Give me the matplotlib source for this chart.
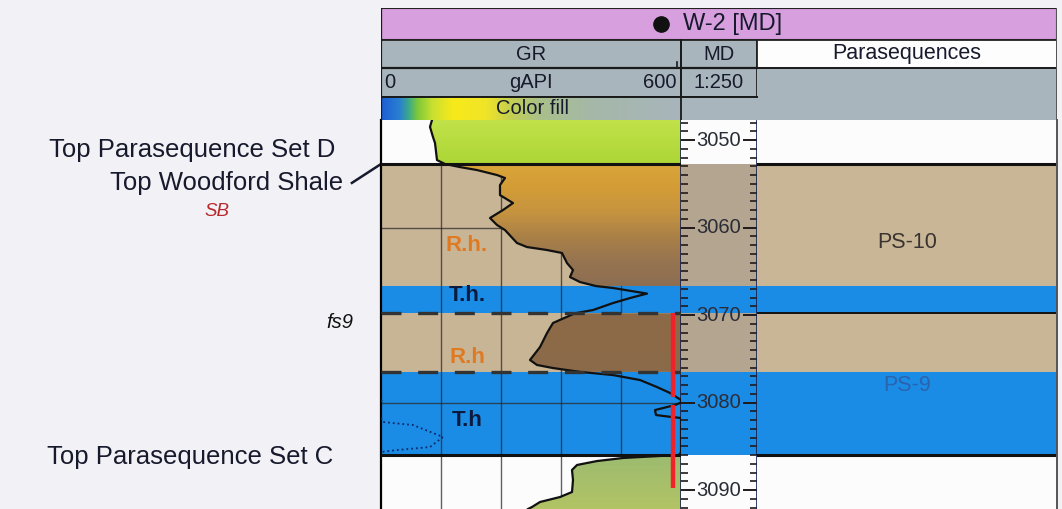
import numpy as np
import matplotlib
matplotlib.use("Agg")
import matplotlib.pyplot as plt
from matplotlib.colors import LinearSegmentedColormap
from matplotlib.path import Path
from matplotlib.patches import Rectangle
from matplotlib.ticker import MultipleLocator

plt.rcParams['font.family'] = ['Liberation Sans', 'DejaVu Sans']

W, H = 1062, 509

# depth window shown (m, MD)
top_depth, base_depth = 3047.71, 3092.17

# GR log (gAPI); above 600 it wraps onto the backup scale
gr_depth = [3047.71, 3048.5, 3049.66, 3050.34, 3052.29, 3052.74, 3053.09, 3053.43,
            3054.0, 3054.34, 3055.14, 3056.29, 3057.2, 3058.0, 3058.91, 3059.71,
            3060.29, 3061.77, 3062.23, 3062.57, 3062.91, 3064.06, 3064.86, 3065.66,
            3066.23, 3066.69, 3066.91, 3067.55, 3068.06, 3068.63, 3069.43, 3069.8,
            3070.91, 3072.06, 3073.66, 3075.14, 3075.71, 3076.06, 3076.5, 3076.86,
            3077.43, 3078.23, 3078.91, 3079.49, 3079.7, 3080.0, 3080.29, 3080.86,
            3081.43, 3081.66, 3081.77, 3082.23, 3082.57, 3083.94, 3085.09, 3085.43,
            3085.66, 3086.0, 3086.11, 3086.34, 3086.69, 3087.14, 3087.71, 3088.86,
            3090.23, 3090.8, 3091.37, 3091.94, 3092.17]
gr_value = [102, 98, 104, 108, 112, 128, 158, 192,
            232, 248, 238, 238, 264, 244, 218, 232,
            248, 272, 292, 332, 362, 372, 384, 378,
            398, 430, 464, 532, 498, 464, 424, 388,
            344, 332, 318, 298, 312, 344, 398, 464,
            518, 552, 578, 594, 600, 604, 588, 548,
            550, 582, 600, 604, 664, 724, 698, 632,
            600, 596, 558, 484, 432, 392, 382, 384,
            382, 358, 318, 302, 294]

# facies intervals in the GR track
facies_top = [3052.74, 3066.69, 3069.8, 3076.5]
facies_base = [3066.69, 3069.8, 3076.5, 3086.0]
facies_kind = ["R", "T", "R", "T"]
facies_label = ["R.h.", "T.h.", "R.h", "T.h"]
facies_label_depth = [3062.1, 3067.8, 3074.8, 3082.0]

# parasequences
ps_name = ["PS-10", "PS-9"]
ps_top = [3052.74, 3069.8]
ps_base = [3069.8, 3086.0]
ps_label_depth = [3061.7, 3078.0]

# well tops written on the left
tops_name = ["Top Parasequence Set D", "Top Woodford Shale", "Top Parasequence Set C"]
tops_label_depth = [3051.1, 3054.9, 3086.2]
woodford_depth = 3052.74
sb_depth = 3058.2
fs9_depth = 3070.8

# red marker in GR track
red_gr = 583
red_top = [3069.8, 3080.29]
red_base = [3079.37, 3089.77]

md_labels = [3050, 3060, 3070, 3080, 3090]

tan_gr = '#c8b596'
tan_md = '#b3a590'
tan_ps = '#c9b697'
blue = '#1a8ce6'
white = '#fcfcfd'
ink = '#171a2c'

fig = plt.figure(figsize=(W / 100, H / 100), dpi=100)
fig.patch.set_facecolor('#f2f1f6')


def px_axes(x0, x1, y0, y1):
    return fig.add_axes([x0 / W, 1 - y1 / H, (x1 - x0) / W, (y1 - y0) / H])


ax_gr = px_axes(381, 681, 120, 509)
ax_md = px_axes(681, 757, 120, 509)
ax_ps = px_axes(757, 1057, 120, 509)
ax_h = px_axes(381, 1057, 8, 120)

depth = np.array(gr_depth)
gr = np.array(gr_value, dtype=float)
gr_main = np.minimum(gr, 600)
gr_wrap = np.where(gr >= 600, gr - 600, np.nan)

# ---------------- GR track ----------------
ax_gr.set_facecolor(white)
for t, b, k in zip(facies_top, facies_base, facies_kind):
    ax_gr.axhspan(t, b, color=tan_gr if k == "R" else blue, zorder=0, lw=0)
for g in [120, 240, 360, 480]:
    ax_gr.axvline(g, color='#2a2a2a', lw=1.0, alpha=0.75, zorder=1)
for d in [3060, 3080]:
    ax_gr.axhline(d, color='#2a2a2a', lw=1.0, alpha=0.75, zorder=1)


def gradient_fill(ax, d0, d1, stops):
    mask = (depth >= d0) & (depth <= d1)
    poly = ax.fill_betweenx(depth, gr_main, 600, where=mask,
                            facecolor='none', edgecolor='none')
    cmap = LinearSegmentedColormap.from_list('f', stops)
    im = ax.imshow(np.linspace(0, 1, 256).reshape(-1, 1), cmap=cmap, aspect='auto',
                   extent=(0, 600, d1, d0), origin='upper', zorder=2,
                   interpolation='bilinear')
    im.set_clip_path(Path.make_compound_path(*poly.get_paths()), ax.transData)


gradient_fill(ax_gr, top_depth, 3052.74, [(0, '#c2e24a'), (1, '#acd636')])
gradient_fill(ax_gr, 3052.74, 3066.69, [(0, '#daa63a'), (0.2, '#d39c36'),
                                        (0.4, '#c69440'), (0.6, '#a98047'),
                                        (0.8, '#967450'), (1, '#8d6e52')])
gradient_fill(ax_gr, 3069.8, 3076.5, [(0, '#8e6b47'), (1, '#8b6a4a')])
gradient_fill(ax_gr, 3086.0, base_depth, [(0, '#9cbb70'), (1, '#b2c464')])

ax_gr.plot(gr_main, depth, color='#111111', lw=1.6, zorder=4)
ax_gr.plot(gr_wrap, depth, color='#0d2a6a', lw=1.3, ls=':', zorder=4)

for d in [3069.8, 3076.5]:
    ax_gr.axhline(d, color='#333333', lw=2.4, dashes=(6, 5), zorder=5)
for d in [3052.74, 3086.0]:
    ax_gr.axhline(d, color='#111111', lw=2.2, zorder=5)

for t, b in zip(red_top, red_base):
    ax_gr.plot([red_gr, red_gr], [t, b], color='#ee2228', lw=3.2,
               solid_capstyle='butt', zorder=6)

for lab, d, k in zip(facies_label, facies_label_depth, facies_kind):
    ax_gr.text(172, d, lab, ha='center', va='center', fontsize=16, fontweight='bold',
               color='#e07a22' if k == "R" else '#0c1a3e', zorder=7)

# left side annotations
ytr = ax_gr.get_yaxis_transform()
ax_gr.text(-0.153, tops_label_depth[0], tops_name[0], transform=ytr, ha='right',
           va='center', fontsize=18.5, color=ink, clip_on=False)
ax_gr.text(-0.127, tops_label_depth[1], tops_name[1], transform=ytr, ha='right',
           va='center', fontsize=18.5, color=ink, clip_on=False)
ax_gr.text(-0.16, tops_label_depth[2], tops_name[2], transform=ytr, ha='right',
           va='center', fontsize=18.5, color=ink, clip_on=False)
ax_gr.plot([-0.097, 0], [tops_label_depth[1], woodford_depth], transform=ytr,
           color=ink, lw=1.8, clip_on=False)
ax_gr.text(-0.547, sb_depth, "SB", transform=ytr, ha='center', va='center',
           fontsize=13.5, style='italic', color='#b8282a', clip_on=False)
ax_gr.text(-0.137, fs9_depth, "fs9", transform=ytr, ha='center', va='center',
           fontsize=14.5, style='italic', color='#111111', clip_on=False)

ax_gr.set_xlim(0, 600)

# ---------------- MD track ----------------
ax_md.set_facecolor(white)
for t, b, k in zip(facies_top, facies_base, facies_kind):
    ax_md.axhspan(t, b, color=tan_md if k == "R" else blue, zorder=0, lw=0)
ax_md.set_xlim(0, 1)
ax_md.yaxis.set_major_locator(MultipleLocator(10))
ax_md.yaxis.set_minor_locator(MultipleLocator(1))
ax_md.tick_params(axis='y', which='major', direction='in', length=10, width=1.4,
                  left=True, right=True, labelleft=False, color='#221a1a')
ax_md.tick_params(axis='y', which='minor', direction='in', length=5, width=1.2,
                  left=True, right=True, color='#221a1a')
ax_md.set_xticks([])
for d in md_labels:
    ax_md.text(0.5, d, str(d), ha='center', va='center', fontsize=14.5, color='#2a2c36')

# ---------------- Parasequence track ----------------
ax_ps.set_facecolor(white)
for t, b, k in zip(facies_top, facies_base, facies_kind):
    ax_ps.axhspan(t, b, color=tan_ps if k == "R" else blue, zorder=0, lw=0)
ax_ps.axhline(ps_top[0], color='#111111', lw=2.2)
ax_ps.axhline(ps_top[1], color='#111111', lw=1.4)
ax_ps.axhline(ps_base[1], color='#111111', lw=2.2)
ax_ps.text(0.5, ps_label_depth[0], ps_name[0], transform=ax_ps.get_yaxis_transform(),
           ha='center', va='center', fontsize=15.5, color='#3a3430')
ax_ps.text(0.5, ps_label_depth[1], ps_name[1], transform=ax_ps.get_yaxis_transform(),
           ha='center', va='center', fontsize=15.5, color='#2a64ad')

for ax in (ax_gr, ax_md, ax_ps):
    ax.set_ylim(base_depth, top_depth)
    ax.set_xticks([])
    ax.spines['top'].set_visible(False)
    ax.spines['bottom'].set_visible(False)
ax_gr.set_yticks([])
ax_ps.set_yticks([])
ax_gr.spines['left'].set_linewidth(1.6)
ax_gr.spines['right'].set_color('#16204a')
ax_gr.spines['right'].set_linewidth(1.2)
ax_md.spines['left'].set_visible(False)
ax_md.spines['right'].set_color('#16204a')
ax_md.spines['right'].set_linewidth(1.2)
ax_ps.spines['left'].set_visible(False)
ax_ps.spines['right'].set_linewidth(1.4)
ax_ps.spines['right'].set_color('#555555')

# ---------------- header ----------------
ax_h.set_xlim(381, 1057)
ax_h.set_ylim(120, 8)
ax_h.axis('off')
grey = '#a9b5bc'
ax_h.add_patch(Rectangle((381, 8), 676, 32, facecolor='#d89fde', edgecolor='#222222', lw=1.5))
ax_h.add_patch(Rectangle((381, 40), 300, 57, facecolor=grey, edgecolor='#222222', lw=1.3))
ax_h.add_patch(Rectangle((681, 40), 76, 57, facecolor=grey, edgecolor='#222222', lw=1.3))
ax_h.add_patch(Rectangle((681, 97), 376, 23, facecolor=grey, edgecolor='none'))
ax_h.add_patch(Rectangle((757, 68), 300, 52, facecolor=grey, edgecolor='none'))
ax_h.add_patch(Rectangle((757, 40), 300, 28, facecolor='#fdfdfd', edgecolor='#222222', lw=1.3))

fill_cmap = LinearSegmentedColormap.from_list('gr', [
    (0, '#1d5ed6'), (0.06, '#2a7fd0'), (0.09, '#3aa88c'), (0.12, '#7cc83a'),
    (0.17, '#c8e030'), (0.24, '#f7ea1a'), (0.35, '#f0e428'), (0.43, '#c5d050'),
    (0.53, '#a9c08a'), (0.7, '#a5b8a8'), (1, '#a8b5bc')])
ax_h.imshow(np.linspace(0, 1, 256).reshape(1, -1), cmap=fill_cmap, aspect='auto',
            extent=(381, 681, 120, 97), interpolation='bilinear', zorder=1)
ax_h.plot([381, 757], [68, 68], color='#1a1a1a', lw=1.6, zorder=3)
ax_h.plot([757, 1057], [68, 68], color='#1a1a1a', lw=1.2, zorder=3)
ax_h.plot([381, 757], [97, 97], color='#1a1a1a', lw=1.4, zorder=3)
ax_h.plot([381, 381], [62, 68], color='#1a1a1a', lw=1.2, zorder=3)
ax_h.plot([677, 677], [62, 68], color='#1a1a1a', lw=1.2, zorder=3)
ax_h.plot([681, 681], [40, 120], color='#1a1a1a', lw=1.3, zorder=3)
ax_h.plot([381, 381], [8, 120], color='#1a1a1a', lw=1.6, zorder=3)
ax_h.plot([1057, 1057], [8, 120], color='#555555', lw=1.4, zorder=3)
ax_h.set_xlim(381, 1057)
ax_h.set_ylim(120, 8)

hk = dict(va='center', color=ink)
ax_h.plot([661], [24], 'o', color='#111111', ms=11)
ax_h.text(683, 24, "W-2 [MD]", ha='left', fontsize=17, **hk)
ax_h.text(531, 54, "GR", ha='center', fontsize=14.5, **hk)
ax_h.text(719, 54, "MD", ha='center', fontsize=14.5, **hk)
ax_h.text(907, 54, "Parasequences", ha='center', fontsize=15.5, **hk)
ax_h.text(384, 83, "0", ha='left', fontsize=14.5, **hk)
ax_h.text(531, 83, "gAPI", ha='center', fontsize=14.5, **hk)
ax_h.text(677, 83, "600", ha='right', fontsize=14.5, **hk)
ax_h.text(719, 83, "1:250", ha='center', fontsize=14.5, **hk)
ax_h.text(533, 109, "Color fill", ha='center', fontsize=14.5, zorder=4, **hk)

fig.savefig("out.png", dpi=100, facecolor=fig.get_facecolor())
